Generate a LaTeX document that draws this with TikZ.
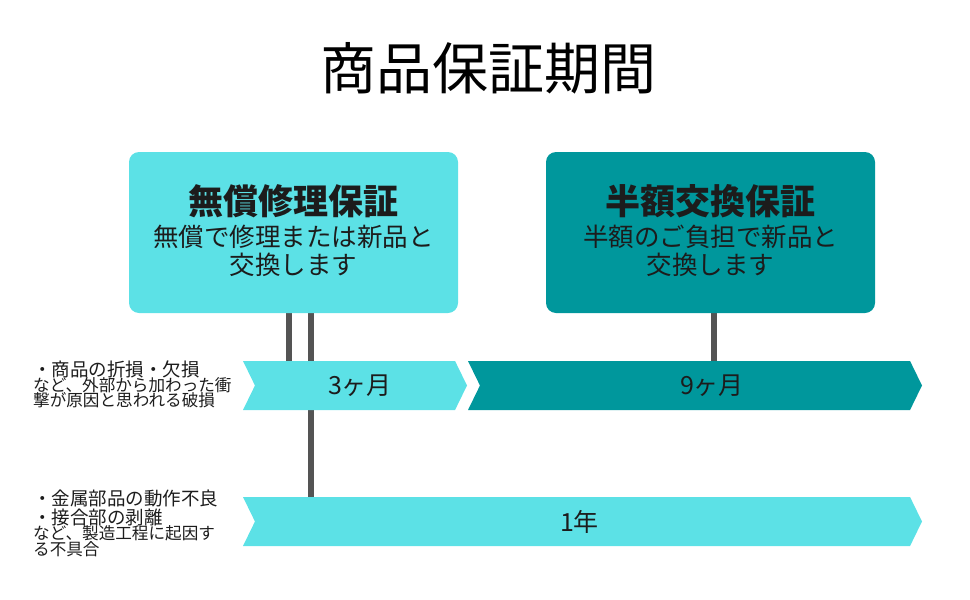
\documentclass[tikz,border=0pt]{standalone}
\usepackage{fontspec}
\setmainfont{Noto Sans CJK JP}
\usepackage{xcolor}
\usepackage{tikz}
\usetikzlibrary{shapes.symbols, positioning, backgrounds}

\definecolor{lightaqua}{HTML}{5CE1E6}
\definecolor{deepteal}{HTML}{00979C}
\definecolor{linegray}{HTML}{545454}
\definecolor{inkdark}{HTML}{1C1C1C}

\begin{document}
\begin{tikzpicture}[
  x=1pt, y=-1pt,
  every node/.style = {text=inkdark, inner sep=0pt},
  plan/.style  = {rectangle, rounded corners=10pt,
                  minimum width=329pt, minimum height=161pt},
  head/.style  = {font=\fontsize{35}{37}\selectfont\bfseries},
  desc/.style  = {font=\fontsize{25.5}{28}\selectfont, align=center},
  band/.style  = {signal, signal from=west, signal to=east,
                  signal pointer angle=128, minimum height=49pt},
  span/.style  = {font=\fontsize{25}{27}\selectfont},
  note/.style  = {anchor=base west, font=\fontsize{18.5}{19}\selectfont},
  small/.style = {anchor=base west, font=\fontsize{16.6}{16}\selectfont},
  link/.style  = {draw=linegray, line width=6pt}
]
\useasboundingbox (0,0) rectangle (970,600);

%% ── TITLE ────────────────────────────────────────────────────────
\node[font=\fontsize{56}{58}\selectfont, text=black] at (488, 68) (title) {商品保証期間};

%% ── PLAN BOXES ───────────────────────────────────────────────────
\node[plan, fill=lightaqua] at (293.5, 232.5) (free) {};
\node[plan, fill=deepteal]  at (710.5, 232.5) (half) {};
\node[head] at (293.5, 201) (freehead) {無償修理保証};
\node[desc] at (293.5, 251) (freetext) {無償で修理または新品と\\交換します};
\node[head] at (710.5, 201) (halfhead) {半額交換保証};
\node[desc] at (710.5, 251) (halftext) {半額のご負担で新品と\\交換します};

%% ── PERIOD BANDS ─────────────────────────────────────────────────
\node[band, fill=lightaqua, minimum width=224pt, label={[span, xshift=5pt]center:3ヶ月}]
  at (355, 385.5) (m3) {};
\node[band, fill=deepteal, minimum width=454pt, label={[span, xshift=17pt]center:9ヶ月}]
  at (695, 385.5) (m9) {};
\node[band, fill=lightaqua, minimum width=679pt, label={[span, xshift=-3pt]center:1年}]
  at (582.5, 521.5) (y1) {};

%% ── CASE NOTES ───────────────────────────────────────────────────
\node[note]  at (33, 376) (dmga) {・商品の折損・欠損};
\node[small] at (33, 391) (dmgb) {など、外部から加わった衝};
\node[small] at (33, 406) (dmgc) {撃が原因と思われる破損};
\node[note]  at (33, 505) (defa) {・金属部品の動作不良};
\node[note]  at (33, 524) (defb) {・接合部の剥離};
\node[small] at (33, 539) (defc) {など、製造工程に起因す};
\node[small] at (33, 555) (defd) {る不具合};

%% ── CONNECTORS ───────────────────────────────────────────────────
\begin{scope}[on background layer]
  \draw[link] (free.south -| 289,0) -- (m3.north -| 289,0);
  \draw[link] (free.south -| 311,0) -- (y1.north -| 311,0);
  \draw[link] (half.south -| 714,0) -- (m9.north -| 714,0);
\end{scope}

\end{tikzpicture}
\end{document}
